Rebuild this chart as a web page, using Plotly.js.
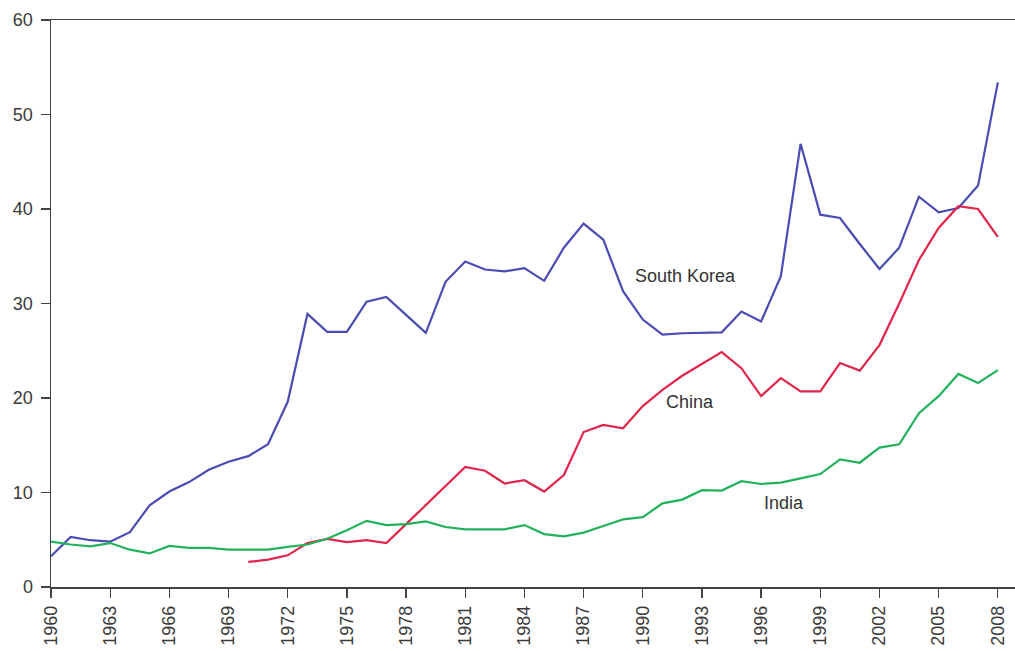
<!DOCTYPE html>
<html>
<head>
<meta charset="utf-8">
<script src="https://cdn.plot.ly/plotly-3.0.1.min.js"></script>
<style>html,body{margin:0;padding:0;background:#fff;}#chart{width:1015px;height:651px;}</style>
</head>
<body>
<div id="chart"></div>
<script>
const years = [];
for (let y = 1960; y <= 2008; y++) years.push(y);

const southKorea = [3.25, 5.3, 4.95, 4.8, 5.8, 8.65, 10.1, 11.1, 12.4, 13.25,
  13.85, 15.1, 19.6, 28.9, 27.0, 27.0, 30.2, 30.7, 28.8, 26.9,
  32.3, 34.45, 33.6, 33.4, 33.75, 32.4, 35.9, 38.45, 36.75, 31.3,
  28.3, 26.7, 26.85, 26.9, 26.95, 29.15, 28.1, 32.9, 46.9, 39.4,
  39.05, 36.3, 33.65, 35.9, 41.3, 39.65, 40.1, 42.5, 53.4];

const chinaYears = years.filter(y => y >= 1970);
const china = [2.65, 2.9, 3.35, 4.65, 5.1, 4.75, 4.95, 4.65, 6.65, 8.65,
  10.7, 12.7, 12.3, 10.95, 11.3, 10.1, 11.85, 16.4, 17.15, 16.8,
  19.15, 20.85, 22.35, 23.6, 24.85, 23.15, 20.2, 22.1, 20.7, 20.7,
  23.7, 22.9, 25.6, 30.0, 34.6, 38.0, 40.3, 40.0, 37.05];

const india = [4.8, 4.5, 4.3, 4.65, 3.95, 3.55, 4.35, 4.15, 4.15, 3.95,
  3.95, 3.95, 4.25, 4.5, 5.1, 6.0, 7.0, 6.55, 6.65, 6.95,
  6.35, 6.1, 6.1, 6.1, 6.55, 5.6, 5.35, 5.75, 6.45, 7.15,
  7.4, 8.85, 9.25, 10.25, 10.2, 11.2, 10.9, 11.05, 11.5, 11.95,
  13.5, 13.15, 14.75, 15.1, 18.4, 20.2, 22.55, 21.6, 22.95];

const xTicks = [];
for (let y = 1960; y <= 2008; y += 3) xTicks.push(y);
const yTicks = [0, 10, 20, 30, 40, 50, 60];

const labels = [
  {text: 'South Korea', x: 1992.18, y: 32.9},
  {text: 'China', x: 1992.37, y: 19.6},
  {text: 'India', x: 1997.15, y: 8.85}
];

const lineW = 2.2;
const traces = [
  {x: years, y: southKorea, mode: 'lines', line: {color: '#4a4cb3', width: lineW}, name: 'South Korea'},
  {x: chinaYears, y: china, mode: 'lines', line: {color: '#e0264c', width: lineW}, name: 'China'},
  {x: years, y: india, mode: 'lines', line: {color: '#22b25c', width: lineW}, name: 'India'}
];

const font = {family: 'Liberation Sans, Arial, sans-serif', size: 18, color: '#3a3a3a'};

const layout = {
  width: 1015, height: 651,
  margin: {l: 51, r: 0, t: 20, b: 64, pad: 0},
  paper_bgcolor: '#ffffff', plot_bgcolor: '#ffffff',
  showlegend: false,
  font: font,
  xaxis: {
    range: [1960, 2008.87], tickvals: xTicks, ticktext: xTicks.map(String),
    tickangle: -90, ticks: 'outside', ticklen: 9, tickwidth: 1.3, tickcolor: '#444',
    showline: true, linecolor: '#444', linewidth: 1.5, mirror: true,
    showgrid: false, zeroline: false, ticklabelstandoff: 1,
    tickfont: font
  },
  yaxis: {
    range: [0, 60], tickvals: yTicks, ticktext: yTicks.map(String),
    ticks: 'outside', ticklen: 9, tickwidth: 1.3, tickcolor: '#444',
    showline: true, linecolor: '#444', linewidth: 1.5,
    showgrid: false, zeroline: false, ticklabelstandoff: 4,
    tickfont: font
  },
  annotations: labels.map(l => ({
    x: l.x, y: l.y, xref: 'x', yref: 'y', text: l.text, showarrow: false,
    font: {family: font.family, size: 18, color: '#333'}
  }))
};

Plotly.newPlot('chart', traces, layout, {displayModeBar: false, staticPlot: true});
</script>
</body>
</html>
